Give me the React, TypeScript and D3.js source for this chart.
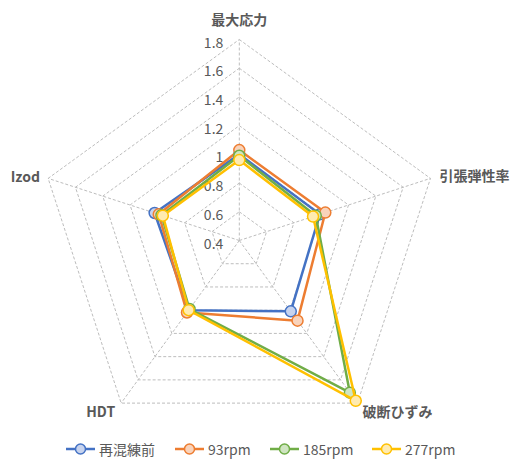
import React from "react";
import * as d3 from "d3";

const axes = ["最大応力", "引張弾性率", "破断ひずみ", "HDT", "Izod"];
const seriesNames = ["再混練前", "93rpm", "185rpm", "277rpm"];
const valsBefore = [1.0, 0.99, 1.01, 1.0, 1.02];
const vals93 = [1.03, 1.03, 1.09, 1.02, 0.99];
const vals185 = [0.99, 0.96, 1.71, 0.99, 0.97];
const vals277 = [0.96, 0.94, 1.78, 1.0, 0.96];
const ticks = [0.4, 0.6, 0.8, 1.0, 1.2, 1.4, 1.6, 1.8];
const tickLabels = ["0.4", "0.6", "0.8", "1", "1.2", "1.4", "1.6", "1.8"];

const colors = ["#4472C4", "#ED7D31", "#70AD47", "#FFC000"];
const fills = ["#c7d3ee", "#f9d3bb", "#cfe5c1", "#ffebb0"];

const W = 513;
const H = 461;
const cx = 239.3;
const cy = 240.5;
const FONT = "'Noto Sans CJK JP', 'Noto Sans', sans-serif";
const TXT = "#595959";

const r = d3.scaleLinear().domain([0.4, 1.8]).range([0, 201]);
const angle = d3.scaleLinear().domain([0, axes.length]).range([0, 2 * Math.PI]);

function pt(i: number, v: number): [number, number] {
  const a = angle(i);
  return [cx + r(v) * Math.sin(a), cy - r(v) * Math.cos(a)];
}

export default function App() {
  const data = [valsBefore, vals93, vals185, vals277];
  const line = d3.line<[number, number]>().curve(d3.curveLinearClosed);

  const labelPos: { dx: number; dy: number; anchor: string }[] = [
    { dx: 0, dy: -21, anchor: "middle" },
    { dx: 9, dy: -3, anchor: "start" },
    { dx: 5, dy: 8, anchor: "start" },
    { dx: -6, dy: 8, anchor: "end" },
    { dx: -8, dy: -2, anchor: "end" },
  ];

  const legendX = [66, 175, 270, 372];

  return (
    <svg width={W} height={H} style={{ position: "absolute", left: 0, top: 0 }}>
      <rect width={W} height={H} fill="#fff" />
      {/* rings */}
      {ticks.slice(1).map((t) => (
        <path
          key={t}
          d={line(axes.map((_, i) => pt(i, t)))!}
          fill="none"
          stroke="#bdbdbd"
          strokeWidth={1}
          strokeDasharray="3,2"
        />
      ))}
      {/* spokes */}
      {axes.map((_, i) => {
        const [x, y] = pt(i, 1.8);
        return (
          <line key={i} x1={cx} y1={cy} x2={x} y2={y} stroke="#bdbdbd" strokeWidth={1} strokeDasharray="3,2" />
        );
      })}
      {/* tick labels */}
      {ticks.map((t, i) => (
        <text
          key={t}
          x={cx - 16}
          y={cy - r(t) + 2}
          textAnchor="end"
          dominantBaseline="central"
          fontFamily={FONT}
          fontSize={14}
          fill={TXT}
        >
          {tickLabels[i]}
        </text>
      ))}
      {/* axis labels */}
      {axes.map((a, i) => {
        const [x, y] = pt(i, 1.8);
        const p = labelPos[i];
        return (
          <text
            key={a}
            x={x + p.dx}
            y={y + p.dy}
            textAnchor={p.anchor as any}
            dominantBaseline="central"
            fontFamily={FONT}
            fontSize={14}
            fontWeight="bold"
            fill={TXT}
          >
            {a}
          </text>
        );
      })}
      {/* series */}
      {data.map((vals, s) => (
        <g key={s}>
          <path
            d={line(vals.map((v, i) => pt(i, v)))!}
            fill="none"
            stroke={colors[s]}
            strokeWidth={2.5}
            strokeLinejoin="round"
          />
          {vals.map((v, i) => {
            const [x, y] = pt(i, v);
            return <circle key={i} cx={x} cy={y} r={5.5} fill={fills[s]} stroke={colors[s]} strokeWidth={1.5} />;
          })}
        </g>
      ))}
      {/* legend */}
      {seriesNames.map((n, s) => {
        const x0 = legendX[s];
        const y0 = 449;
        return (
          <g key={n}>
            <line x1={x0} y1={y0} x2={x0 + 29} y2={y0} stroke={colors[s]} strokeWidth={2.5} />
            <circle cx={x0 + 14.5} cy={y0} r={5} fill={fills[s]} stroke={colors[s]} strokeWidth={1.5} />
            <text
              x={x0 + 33}
              y={y0}
              dominantBaseline="central"
              fontFamily={FONT}
              fontSize={14}
              fill={TXT}
            >
              {n}
            </text>
          </g>
        );
      })}
    </svg>
  );
}
